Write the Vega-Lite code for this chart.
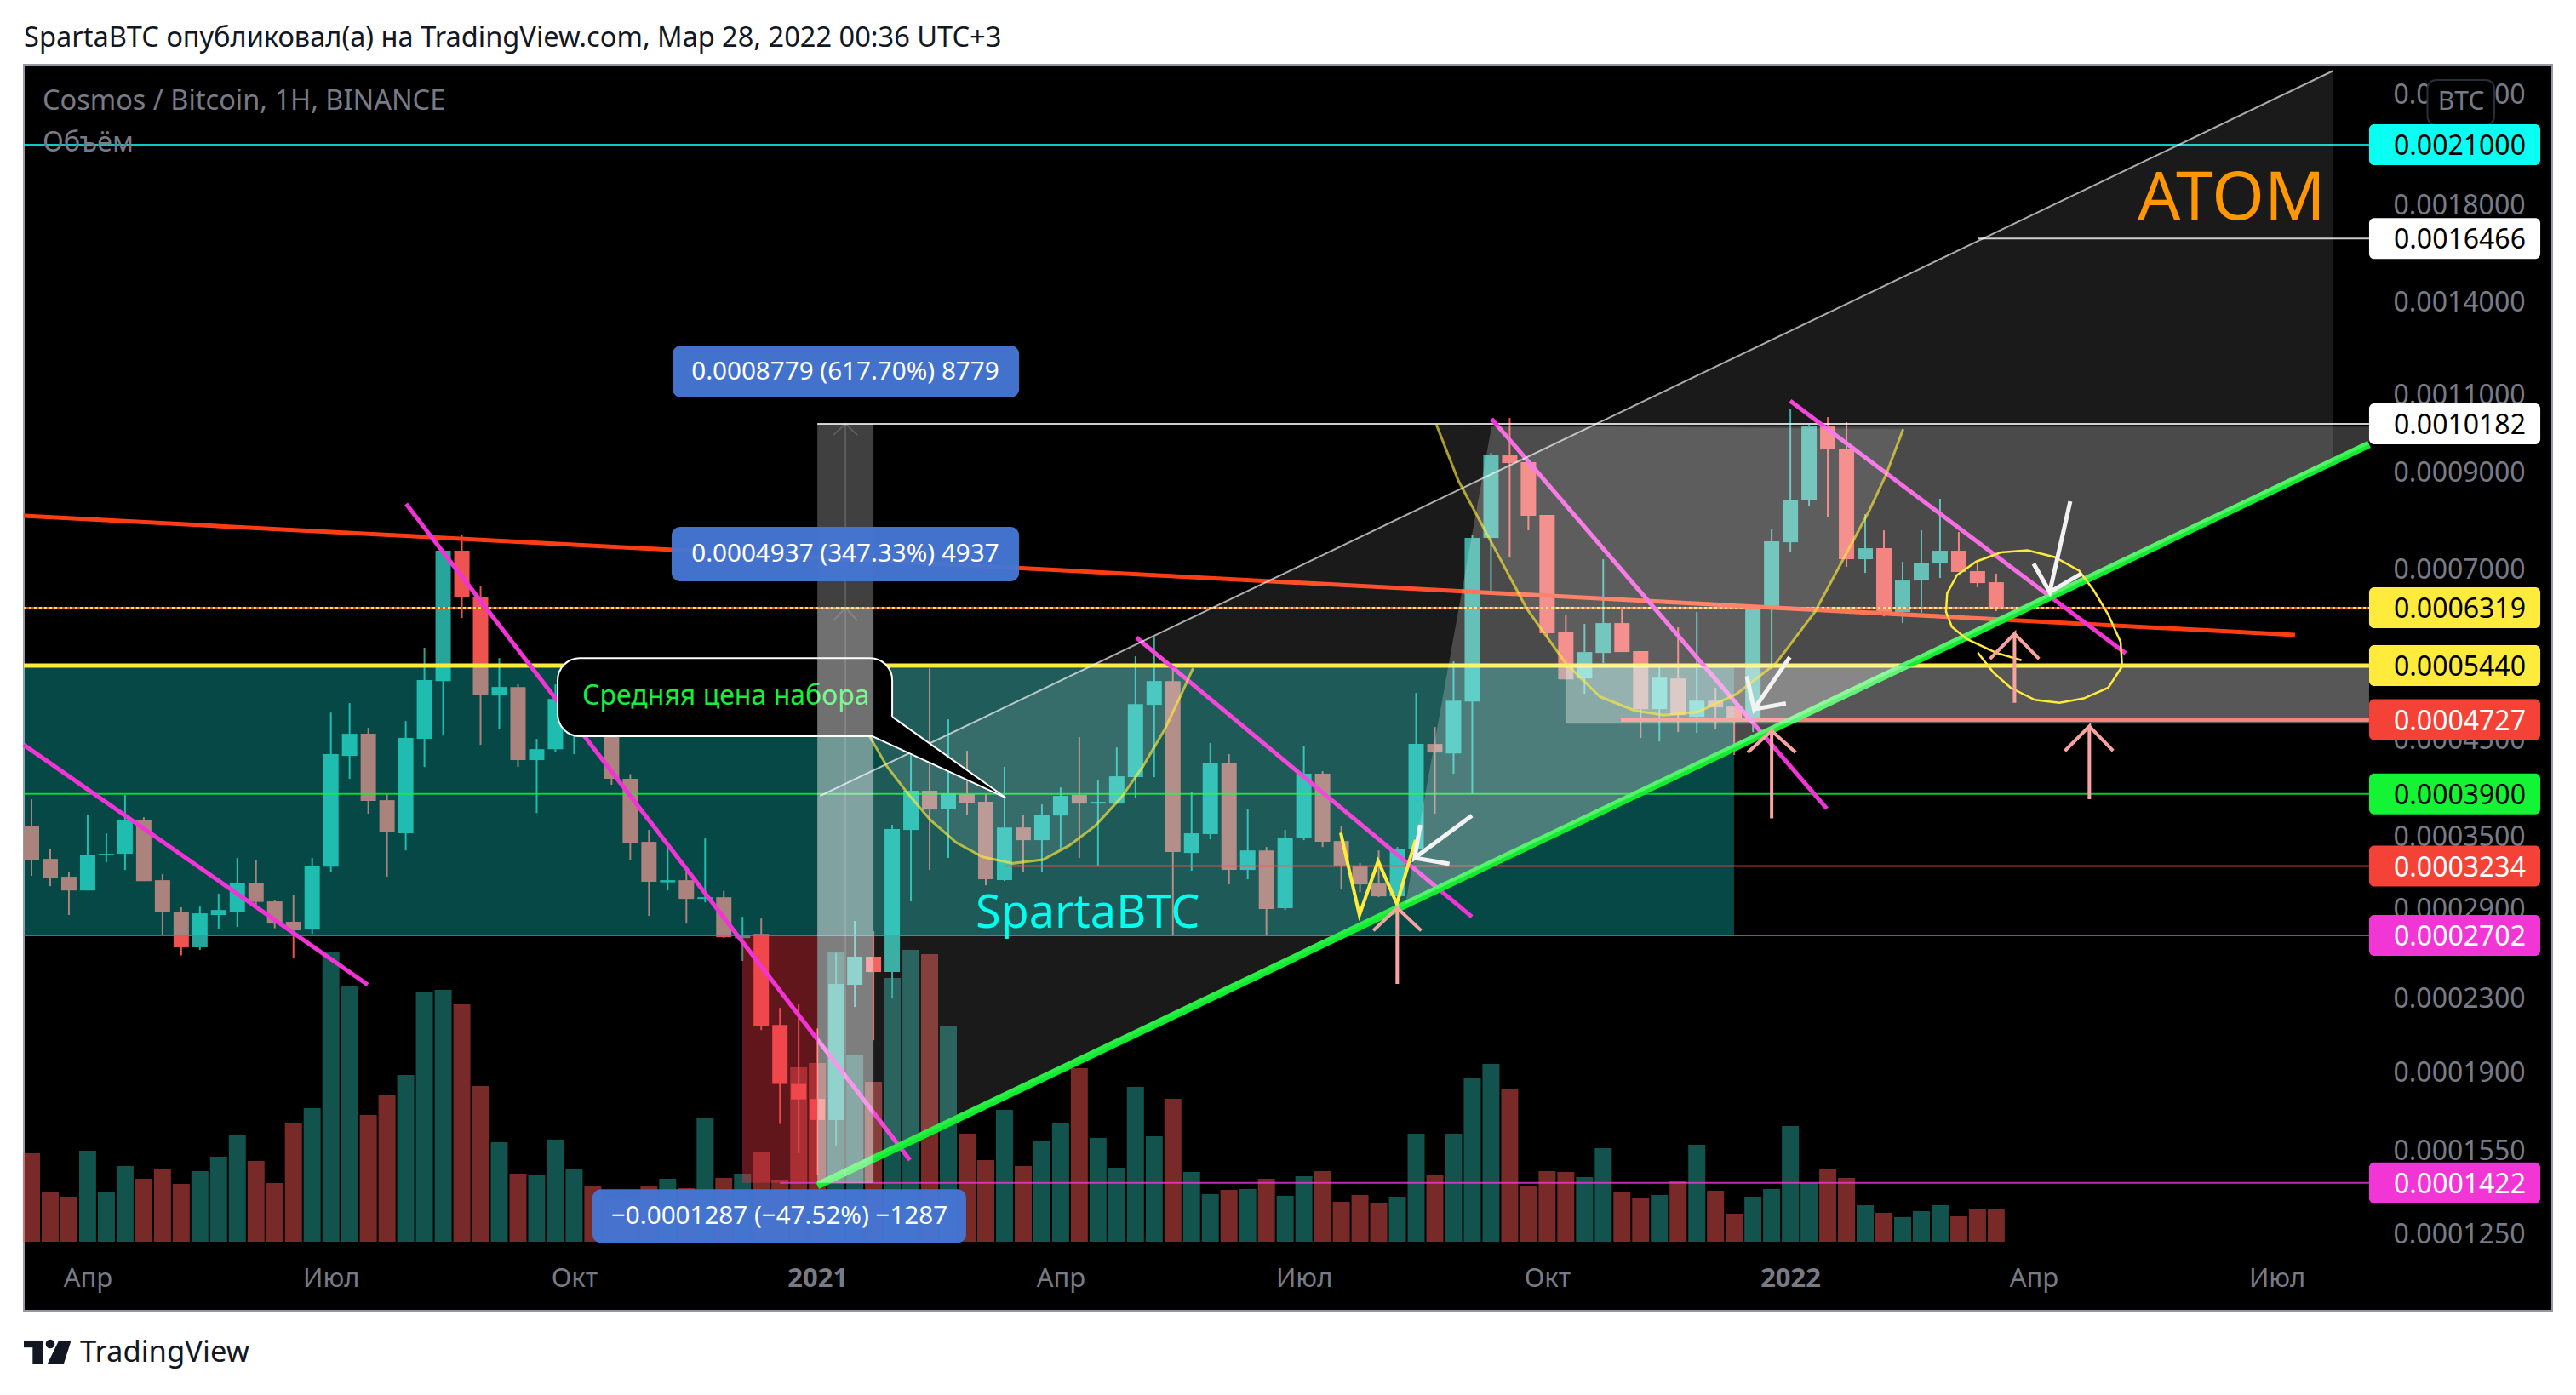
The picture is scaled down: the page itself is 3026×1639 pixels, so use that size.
{
"$schema":"https://vega.github.io/schema/vega-lite/v6.json",
"width":2970,"height":1464,
"autosize":{"type":"none"},
"padding":{"left":28,"top":76,"right":28,"bottom":99},
"background":"#ffffff",
"view":{"fill":"#000000","stroke":"#9598A1","strokeWidth":2},
"config":{"font":"Noto Sans","title":{"font":"Noto Sans"}},
"title":{"text":"SpartaBTC опубликовал(а) на TradingView.com, Мар 28, 2022 00:36 UTC+3","anchor":"start","frame":"group","offset":14,"fontSize":32.6,"fontWeight":"normal","color":"#131722"},
"datasets":{
"candles":[
{"bar":0,"open":0.0003591,"high":0.0003845,"low":0.0003153,"close":0.0003288,"volume":104},
{"bar":1,"open":0.0003295,"high":0.000338,"low":0.000307,"close":0.0003139,"volume":58},
{"bar":2,"open":0.0003146,"high":0.0003188,"low":0.0002849,"close":0.0003036,"volume":53},
{"bar":3,"open":0.0003036,"high":0.0003695,"low":0.0003036,"close":0.0003332,"volume":107},
{"bar":4,"open":0.0003325,"high":0.0003521,"low":0.0003266,"close":0.0003339,"volume":58},
{"bar":5,"open":0.0003339,"high":0.0003889,"low":0.0003202,"close":0.0003647,"volume":89},
{"bar":6,"open":0.0003647,"high":0.0003671,"low":0.0003111,"close":0.0003111,"volume":74},
{"bar":7,"open":0.0003118,"high":0.0003167,"low":0.0002707,"close":0.0002868,"volume":85},
{"bar":8,"open":0.0002868,"high":0.0002906,"low":0.0002565,"close":0.000262,"volume":68},
{"bar":9,"open":0.000262,"high":0.0002912,"low":0.0002602,"close":0.0002861,"volume":83},
{"bar":10,"open":0.0002849,"high":0.000301,"low":0.000275,"close":0.0002886,"volume":100},
{"bar":11,"open":0.0002874,"high":0.0003303,"low":0.0002762,"close":0.0003098,"volume":125},
{"bar":12,"open":0.0003098,"high":0.0003281,"low":0.0002925,"close":0.0002947,"volume":95},
{"bar":13,"open":0.0002951,"high":0.0002964,"low":0.0002753,"close":0.0002786,"volume":69},
{"bar":14,"open":0.0002799,"high":0.0002997,"low":0.0002551,"close":0.0002738,"volume":139},
{"bar":15,"open":0.0002744,"high":0.0003303,"low":0.0002713,"close":0.0003237,"volume":157},
{"bar":16,"open":0.000323,"high":0.0004816,"low":0.0003181,"close":0.0004323,"volume":341},
{"bar":17,"open":0.0004304,"high":0.0004935,"low":0.0004055,"close":0.0004558,"volume":300},
{"bar":18,"open":0.0004558,"high":0.0004629,"low":0.0003704,"close":0.0003829,"volume":149},
{"bar":19,"open":0.0003837,"high":0.0003897,"low":0.0003146,"close":0.0003529,"volume":172},
{"bar":20,"open":0.0003521,"high":0.0004711,"low":0.0003368,"close":0.0004508,"volume":196},
{"bar":21,"open":0.0004498,"high":0.0005697,"low":0.0004182,"close":0.0005238,"volume":294},
{"bar":22,"open":0.0005226,"high":0.0007327,"low":0.0004538,"close":0.0007327,"volume":296},
{"bar":23,"open":0.0007327,"high":0.000764,"low":0.0006154,"close":0.0006489,"volume":279},
{"bar":24,"open":0.0006504,"high":0.0006678,"low":0.0004429,"close":0.0005034,"volume":183},
{"bar":25,"open":0.0005034,"high":0.0005547,"low":0.0004619,"close":0.0005146,"volume":117},
{"bar":26,"open":0.0005146,"high":0.000518,"low":0.0004182,"close":0.0004257,"volume":80},
{"bar":27,"open":0.0004257,"high":0.0004498,"low":0.0003712,"close":0.000438,"volume":78},
{"bar":28,"open":0.000438,"high":0.000518,"low":0.0004352,"close":0.0004989,"volume":120},
{"bar":29,"open":0.0004578,"high":0.0005226,"low":0.0004323,"close":0.0004891,"volume":86},
{"bar":30,"open":0.0005056,"high":0.0005226,"low":0.0004558,"close":0.0004578,"volume":66},
{"bar":31,"open":0.0004578,"high":0.0004629,"low":0.0003993,"close":0.0004055,"volume":50},
{"bar":32,"open":0.0004055,"high":0.0004105,"low":0.0003281,"close":0.0003436,"volume":50},
{"bar":33,"open":0.0003444,"high":0.0003552,"low":0.0002842,"close":0.0003105,"volume":65},
{"bar":34,"open":0.0003101,"high":0.0003406,"low":0.0003036,"close":0.0003118,"volume":74},
{"bar":35,"open":0.0003118,"high":0.0003188,"low":0.0002786,"close":0.000297,"volume":63},
{"bar":36,"open":0.000297,"high":0.0003474,"low":0.0002944,"close":0.0002983,"volume":146},
{"bar":37,"open":0.0002983,"high":0.0003033,"low":0.0002683,"close":0.0002689,"volume":75},
{"bar":38,"open":0.0002683,"high":0.0002836,"low":0.0002529,"close":0.0002701,"volume":80},
{"bar":39,"open":0.0002713,"high":0.0002823,"low":0.0002114,"close":0.0002137,"volume":105},
{"bar":40,"open":0.0002142,"high":0.0002239,"low":0.0001657,"close":0.0001838,"volume":73},
{"bar":41,"open":0.0001838,"high":0.0002259,"low":0.0001536,"close":0.0001766,"volume":205},
{"bar":42,"open":0.0001768,"high":0.0002123,"low":0.0001453,"close":0.0001674,"volume":210},
{"bar":43,"open":0.0001674,"high":0.0002582,"low":0.0001567,"close":0.0002382,"volume":340},
{"bar":44,"open":0.0002377,"high":0.0002805,"low":0.0002244,"close":0.0002557,"volume":219},
{"bar":45,"open":0.0002557,"high":0.0002732,"low":0.0002059,"close":0.0002457,"volume":188},
{"bar":46,"open":0.0002457,"high":0.0003599,"low":0.0002294,"close":0.000356,"volume":310},
{"bar":47,"open":0.0003552,"high":0.0004313,"low":0.0002951,"close":0.0003932,"volume":343},
{"bar":48,"open":0.0003932,"high":0.0005402,"low":0.0003202,"close":0.0003745,"volume":338},
{"bar":49,"open":0.0003753,"high":0.0004732,"low":0.0003303,"close":0.0003906,"volume":254},
{"bar":50,"open":0.0003897,"high":0.0004361,"low":0.0003695,"close":0.0003812,"volume":127},
{"bar":51,"open":0.000382,"high":0.0003897,"low":0.0003077,"close":0.0003125,"volume":96},
{"bar":52,"open":0.0003118,"high":0.0004182,"low":0.0003111,"close":0.0003575,"volume":155},
{"bar":53,"open":0.0003575,"high":0.0003695,"low":0.0003181,"close":0.0003459,"volume":89},
{"bar":54,"open":0.0003459,"high":0.0003795,"low":0.0003181,"close":0.0003695,"volume":119},
{"bar":55,"open":0.0003687,"high":0.0003966,"low":0.0003376,"close":0.000388,"volume":139},
{"bar":56,"open":0.0003889,"high":0.0004518,"low":0.0003303,"close":0.0003803,"volume":204},
{"bar":57,"open":0.0003803,"high":0.0004046,"low":0.0003237,"close":0.000382,"volume":122},
{"bar":58,"open":0.0003803,"high":0.00044,"low":0.0003803,"close":0.0004082,"volume":87},
{"bar":59,"open":0.0004073,"high":0.0005572,"low":0.0003854,"close":0.0004923,"volume":182},
{"bar":60,"open":0.0004913,"high":0.000585,"low":0.0004073,"close":0.0005226,"volume":124},
{"bar":61,"open":0.0005226,"high":0.0005402,"low":0.0002707,"close":0.0003354,"volume":168},
{"bar":62,"open":0.0003346,"high":0.0003923,"low":0.0003195,"close":0.0003521,"volume":82},
{"bar":63,"open":0.0003513,"high":0.0004449,"low":0.0003467,"close":0.0004219,"volume":56},
{"bar":64,"open":0.0004219,"high":0.0004323,"low":0.0003084,"close":0.0003202,"volume":61},
{"bar":65,"open":0.0003202,"high":0.0003753,"low":0.0003125,"close":0.0003368,"volume":62},
{"bar":66,"open":0.0003368,"high":0.0003398,"low":0.0002707,"close":0.0002893,"volume":74},
{"bar":67,"open":0.0002899,"high":0.0003552,"low":0.0002886,"close":0.0003482,"volume":54},
{"bar":68,"open":0.0003482,"high":0.0004419,"low":0.0003459,"close":0.0004109,"volume":77},
{"bar":69,"open":0.0004109,"high":0.0004136,"low":0.0003398,"close":0.0003444,"volume":83},
{"bar":70,"open":0.0003451,"high":0.0003591,"low":0.0003043,"close":0.0003237,"volume":47},
{"bar":71,"open":0.0003237,"high":0.0003259,"low":0.0003023,"close":0.0003084,"volume":55},
{"bar":72,"open":0.0003091,"high":0.0003368,"low":0.0002983,"close":0.000299,"volume":46},
{"bar":73,"open":0.000299,"high":0.0003398,"low":0.000299,"close":0.0003383,"volume":53},
{"bar":74,"open":0.0003383,"high":0.0005067,"low":0.0003383,"close":0.0004439,"volume":127},
{"bar":75,"open":0.0004439,"high":0.0004639,"low":0.0003704,"close":0.0004342,"volume":78},
{"bar":76,"open":0.0004332,"high":0.0005499,"low":0.0004109,"close":0.0004967,"volume":127},
{"bar":77,"open":0.0004956,"high":0.000764,"low":0.0003897,"close":0.0007573,"volume":192},
{"bar":78,"open":0.0007573,"high":0.0009444,"low":0.0006605,"close":0.0009382,"volume":209},
{"bar":79,"open":0.0009382,"high":0.0010338,"low":0.0007198,"close":0.0009197,"volume":179},
{"bar":80,"open":0.0009218,"high":0.0009218,"low":0.0007725,"close":0.0008021,"volume":66},
{"bar":81,"open":0.0008039,"high":0.0008039,"low":0.0005863,"close":0.0005915,"volume":83},
{"bar":82,"open":0.0005928,"high":0.0006195,"low":0.0005249,"close":0.0005249,"volume":82},
{"bar":83,"open":0.0005261,"high":0.000606,"low":0.0005056,"close":0.0005634,"volume":76},
{"bar":84,"open":0.0005621,"high":0.0007167,"low":0.0005474,"close":0.0006073,"volume":110},
{"bar":85,"open":0.0006073,"high":0.0006291,"low":0.0005634,"close":0.0005634,"volume":59},
{"bar":86,"open":0.0005646,"high":0.0005646,"low":0.0004508,"close":0.0004859,"volume":51},
{"bar":87,"open":0.0004859,"high":0.0005426,"low":0.0004468,"close":0.0005272,"volume":55},
{"bar":88,"open":0.0005261,"high":0.0006007,"low":0.0004578,"close":0.0004784,"volume":72},
{"bar":89,"open":0.0004763,"high":0.000625,"low":0.0004568,"close":0.0004967,"volume":114},
{"bar":90,"open":0.0004967,"high":0.0005135,"low":0.0004609,"close":0.000488,"volume":60},
{"bar":91,"open":0.0004891,"high":0.0004891,"low":0.0004313,"close":0.0004732,"volume":33},
{"bar":92,"open":0.0004742,"high":0.0006305,"low":0.0004578,"close":0.0006305,"volume":53},
{"bar":93,"open":0.0006305,"high":0.0007759,"low":0.000539,"close":0.0007506,"volume":62},
{"bar":94,"open":0.000749,"high":0.0010593,"low":0.000731,"close":0.0008364,"volume":136},
{"bar":95,"open":0.0008346,"high":0.0010157,"low":0.0008236,"close":0.0010135,"volume":69},
{"bar":96,"open":0.0010135,"high":0.0010361,"low":0.0008003,"close":0.0009528,"volume":86},
{"bar":97,"open":0.0009549,"high":0.0010225,"low":0.0007026,"close":0.0007167,"volume":75},
{"bar":98,"open":0.0007167,"high":0.0008056,"low":0.0006918,"close":0.0007375,"volume":43},
{"bar":99,"open":0.0007375,"high":0.0007725,"low":0.0006181,"close":0.000625,"volume":34},
{"bar":100,"open":0.000625,"high":0.0007119,"low":0.0006073,"close":0.0006782,"volume":29},
{"bar":101,"open":0.0006782,"high":0.0007725,"low":0.0006236,"close":0.0007103,"volume":36},
{"bar":102,"open":0.0007088,"high":0.0008383,"low":0.0006827,"close":0.0007327,"volume":43},
{"bar":103,"open":0.0007327,"high":0.0007691,"low":0.0006934,"close":0.0006934,"volume":30},
{"bar":104,"open":0.0006949,"high":0.0007103,"low":0.0006663,"close":0.0006737,"volume":39},
{"bar":105,"open":0.0006752,"high":0.0006903,"low":0.0006264,"close":0.0006319,"volume":38}
],
"thin_levels":[
{"label":"0.0021000","price":0.0021,"bar":-0.41,"bar2":124.93},
{"label":"0.0016466","price":0.0016466,"bar":104.05,"bar2":124.93},
{"label":"0.0010182","price":0.0010182,"bar":42,"bar2":124.93},
{"label":"0.0003900","price":0.00039,"bar":-0.41,"bar2":124.93},
{"label":"0.0003234","price":0.0003234,"bar":52,"bar2":124.93},
{"label":"0.0002702","price":0.0002702,"bar":-0.41,"bar2":124.93},
{"label":"0.0001422","price":0.0001422,"bar":40,"bar2":124.93}
],
"tags":[
{"label":"0.0021000","price":0.0021,"bar":124.93,"bar2":134.08},
{"label":"0.0016466","price":0.0016466,"bar":124.93,"bar2":134.08},
{"label":"0.0010182","price":0.0010182,"bar":124.93,"bar2":134.08},
{"label":"0.0006319","price":0.0006319,"bar":124.93,"bar2":134.08},
{"label":"0.0005440","price":0.000544,"bar":124.93,"bar2":134.08},
{"label":"0.0004727","price":0.0004727,"bar":124.93,"bar2":134.08},
{"label":"0.0003900","price":0.00039,"bar":124.93,"bar2":134.08},
{"label":"0.0003234","price":0.0003234,"bar":124.93,"bar2":134.08},
{"label":"0.0002702","price":0.0002702,"bar":124.93,"bar2":134.08},
{"label":"0.0001422","price":0.0001422,"bar":124.93,"bar2":134.08}
],
"trends":[
{"line":"a","n":1,"bar":-0.41,"price":0.0004429},{"line":"a","n":2,"bar":17.97,"price":0.0002377},
{"line":"b","n":1,"bar":20.02,"price":0.0008272},{"line":"b","n":2,"bar":46.95,"price":0.0001509},
{"line":"c","n":1,"bar":59.05,"price":0.000585},{"line":"c","n":2,"bar":76.98,"price":0.0002836},
{"line":"d","n":1,"bar":78.03,"price":0.0010316},{"line":"d","n":2,"bar":95.95,"price":0.0003753},
{"line":"e","n":1,"bar":93.99,"price":0.0010805},{"line":"e","n":2,"bar":111.92,"price":0.0005615}
],
"white_arrows":[
{"arrow":"w1","n":1,"bar":76.98,"price":0.0003687},{"arrow":"w1","n":2,"bar":73.92,"price":0.0003303},{"arrow":"w1","n":3,"bar":74.22,"price":0.0003599},{"arrow":"w1","n":4,"bar":73.92,"price":0.0003303},{"arrow":"w1","n":5,"bar":75.78,"price":0.0003252},
{"arrow":"w2","n":1,"bar":93.97,"price":0.000556},{"arrow":"w2","n":2,"bar":92.06,"price":0.0004859},{"arrow":"w2","n":3,"bar":91.67,"price":0.0005292},{"arrow":"w2","n":4,"bar":92.06,"price":0.0004859},{"arrow":"w2","n":5,"bar":93.76,"price":0.000493},
{"arrow":"w3","n":1,"bar":108.96,"price":0.0008328},{"arrow":"w3","n":2,"bar":107.86,"price":0.0006583},{"arrow":"w3","n":3,"bar":107,"price":0.0007086},{"arrow":"w3","n":4,"bar":107.86,"price":0.0006583},{"arrow":"w3","n":5,"bar":109.56,"price":0.0006905}
],
"pink_arrows":[
{"arrow":"p1","n":1,"bar":72.99,"price":0.0002382},{"arrow":"p1","n":2,"bar":72.99,"price":0.0002901},{"arrow":"p1","n":3,"bar":71.71,"price":0.0002736},{"arrow":"p1","n":4,"bar":72.99,"price":0.0002901},{"arrow":"p1","n":5,"bar":74.27,"price":0.0002736},
{"arrow":"p2","n":1,"bar":93,"price":0.000366},{"arrow":"p2","n":2,"bar":93,"price":0.0004592},{"arrow":"p2","n":3,"bar":91.72,"price":0.0004343},{"arrow":"p2","n":4,"bar":93,"price":0.0004592},{"arrow":"p2","n":5,"bar":94.28,"price":0.0004343},
{"arrow":"p3","n":1,"bar":105.98,"price":0.0004938},{"arrow":"p3","n":2,"bar":105.98,"price":0.0005907},{"arrow":"p3","n":3,"bar":104.67,"price":0.0005536},{"arrow":"p3","n":4,"bar":105.98,"price":0.0005907},{"arrow":"p3","n":5,"bar":107.29,"price":0.0005536},
{"arrow":"p4","n":1,"bar":109.98,"price":0.0003846},{"arrow":"p4","n":2,"bar":109.98,"price":0.0004647},{"arrow":"p4","n":3,"bar":108.67,"price":0.000436},{"arrow":"p4","n":4,"bar":109.98,"price":0.0004647},{"arrow":"p4","n":5,"bar":111.25,"price":0.000436}
],
"cups":[
{"cup":1,"bar":42.86,"price":0.0005402,"price2":0.0005402},{"cup":1,"bar":43.81,"price":0.0004913,"price2":0.0005402},{"cup":1,"bar":44.79,"price":0.0004528,"price2":0.0005402},{"cup":1,"bar":45.71,"price":0.0004191,"price2":0.0005402},{"cup":1,"bar":46.87,"price":0.0003895,"price2":0.0005402},{"cup":1,"bar":48.04,"price":0.0003645,"price2":0.0005402},{"cup":1,"bar":49.43,"price":0.0003436,"price2":0.0005402},{"cup":1,"bar":50.82,"price":0.0003312,"price2":0.0005402},{"cup":1,"bar":52.45,"price":0.0003257,"price2":0.0005402},{"cup":1,"bar":54.07,"price":0.0003288,"price2":0.0005402},{"cup":1,"bar":55.46,"price":0.0003411,"price2":0.0005402},{"cup":1,"bar":56.86,"price":0.0003591,"price2":0.0005402},{"cup":1,"bar":58.25,"price":0.0003865,"price2":0.0005402},{"cup":1,"bar":59.41,"price":0.0004191,"price2":0.0005402},{"cup":1,"bar":60.57,"price":0.0004612,"price2":0.0005402},{"cup":1,"bar":61.5,"price":0.0005075,"price2":0.0005402},{"cup":1,"bar":62.08,"price":0.0005402,"price2":0.0005402},
{"cup":2,"bar":75.08,"price":0.001016,"price2":0.001016},{"cup":2,"bar":76.26,"price":0.000878,"price2":0.001015},{"cup":2,"bar":78.09,"price":0.000744,"price2":0.001014},{"cup":2,"bar":79.91,"price":0.0006305,"price2":0.0010135},{"cup":2,"bar":82,"price":0.000547,"price2":0.001013},{"cup":2,"bar":83.83,"price":0.0005016,"price2":0.001012},{"cup":2,"bar":85.66,"price":0.0004842,"price2":0.001011},{"cup":2,"bar":87.22,"price":0.0004784,"price2":0.00101},{"cup":2,"bar":89.05,"price":0.0004822,"price2":0.001009},{"cup":2,"bar":91.14,"price":0.0005056,"price2":0.001008},{"cup":2,"bar":93.23,"price":0.000547,"price2":0.001007},{"cup":2,"bar":95.32,"price":0.0006255,"price2":0.001006},{"cup":2,"bar":96.89,"price":0.0007208,"price2":0.0010055},{"cup":2,"bar":98.2,"price":0.0008114,"price2":0.001005},{"cup":2,"bar":99.11,"price":0.0008918,"price2":0.0010045},{"cup":2,"bar":100.03,"price":0.001004,"price2":0.001004}
],
"ellipse":[
{"n":1,"bar":106.35,"price":0.0005515},{"n":2,"bar":104.99,"price":0.0005624},{"n":3,"bar":103.42,"price":0.0005828},{"n":4,"bar":102.63,"price":0.0006014},{"n":5,"bar":102.32,"price":0.0006255},{"n":6,"bar":102.38,"price":0.000656},{"n":7,"bar":102.9,"price":0.0006877},{"n":8,"bar":103.94,"price":0.0007125},{"n":9,"bar":105.25,"price":0.0007296},{"n":10,"bar":106.68,"price":0.0007336},{"n":11,"bar":108.12,"price":0.0007208},{"n":12,"bar":109.43,"price":0.0006958},{"n":13,"bar":110.21,"price":0.0006612},{"n":14,"bar":110.99,"price":0.0006207},{"n":15,"bar":111.65,"price":0.0005783},{"n":16,"bar":111.73,"price":0.0005427},{"n":17,"bar":110.99,"price":0.0005136},{"n":18,"bar":109.68,"price":0.0004996},{"n":19,"bar":108.38,"price":0.0004938},{"n":20,"bar":107.07,"price":0.0004977},{"n":21,"bar":105.77,"price":0.0005136},{"n":22,"bar":104.85,"price":0.0005343},{"n":23,"bar":104.02,"price":0.0005624}
]
},
"encoding":{
"x":{"field":"bar","type":"quantitative","title":null,
"scale":{"domain":[-0.4095,134.714],"nice":false,"zero":false,"padding":0},
"axis":{"values":[3,16,29,42,55,68,81,94,107,120],"labelExpr":"['Апр','Июл','Окт','2021','Апр','Июл','Окт','2022','Апр','Июл'][(datum.value-3)/13]","offset":-38,"grid":false,"domain":false,"ticks":false,"labelPadding":0,"labelBaseline":"middle","labelFontSize":31,"labelColor":"#787B86","labelFontWeight":{"condition":{"test":"datum.value==42||datum.value==94","value":"bold"},"value":"normal"},"labelOverlap":false,"labelFlush":false}}
},
"resolve":{"scale":{"y":"independent"}},
"layer":[
{"data":{"name":"candles"},
 "mark":{"type":"bar","size":20,"opacity":0.5,"orient":"vertical"},
 "encoding":{
  "y":{"field":"volume","type":"quantitative","title":null,"stack":null,"scale":{"domain":[-81,1383],"nice":false,"zero":false,"padding":0},"axis":null},
  "color":{"condition":{"test":"datum.close>=datum.open","value":"#26A69A"},"value":"#EF5350"}}},
{"encoding":{
  "y":{"field":"price","type":"quantitative","title":null,
   "scale":{"type":"log","domain":[0.00010208,0.0025842],"nice":false,"padding":0},
   "axis":{"orient":"right","offset":-32,"values":[0.0024,0.0018,0.0014,0.0011,0.0009,0.0007,0.00045,0.00035,0.00029,0.00023,0.00019,0.000155,0.000125],"format":".7f","grid":false,"domain":false,"ticks":false,"labelPadding":0,"labelOffset":2,"labelAlign":"right","labelFontSize":32,"labelColor":"#787B86","labelOverlap":false,"labelFlush":false}}},
 "layer":[
 {"data":{"name":"candles"},
  "mark":{"type":"rule","strokeWidth":2},
  "encoding":{
   "y":{"field":"low","type":"quantitative","title":null,"scale":{"type":"log","domain":[0.00010208,0.0025842],"nice":false,"padding":0},
    "axis":{"orient":"right","offset":-32,"values":[0.0024,0.0018,0.0014,0.0011,0.0009,0.0007,0.00045,0.00035,0.00029,0.00023,0.00019,0.000155,0.000125],"format":".7f","grid":false,"domain":false,"ticks":false,"labelPadding":0,"labelOffset":2,"labelAlign":"right","labelFontSize":32,"labelColor":"#787B86","labelOverlap":false,"labelFlush":false}},
   "y2":{"field":"high"},
   "color":{"condition":{"test":"datum.close>=datum.open","value":"#26A69A"},"value":"#EF5350"}}},
 {"data":{"name":"candles"},
  "mark":{"type":"bar","size":18,"orient":"vertical"},
  "encoding":{
   "y":{"field":"open","type":"quantitative","title":null,"scale":{"type":"log","domain":[0.00010208,0.0025842],"nice":false,"padding":0},
    "axis":{"orient":"right","offset":-32,"values":[0.0024,0.0018,0.0014,0.0011,0.0009,0.0007,0.00045,0.00035,0.00029,0.00023,0.00019,0.000155,0.000125],"format":".7f","grid":false,"domain":false,"ticks":false,"labelPadding":0,"labelOffset":2,"labelAlign":"right","labelFontSize":32,"labelColor":"#787B86","labelOverlap":false,"labelFlush":false}},
   "y2":{"field":"close"},
   "color":{"condition":{"test":"datum.close>=datum.open","value":"#26A69A"},"value":"#EF5350"}}},
 {"data":{"values":[{"bar":-0.41,"bar2":90.99,"price":0.000544,"price2":0.0002702}]},
  "mark":{"type":"rect","fill":"#12F0E6","opacity":0.3},
  "encoding":{"x2":{"field":"bar2"},"y2":{"field":"price2"}}},
 {"data":{"values":[{"bar":37.99,"bar2":42,"price":0.0002702,"price2":0.0001422}]},
  "mark":{"type":"rect","fill":"#F23645","opacity":0.4},
  "encoding":{"x2":{"field":"bar2"},"y2":{"field":"price2"}}},
 {"data":{"name":"thin_levels"},
  "mark":{"type":"rule","strokeWidth":2,"opacity":0.8},
  "encoding":{"x2":{"field":"bar2"},
   "color":{"field":"label","type":"nominal","legend":null,"scale":{"domain":["0.0021000","0.0016466","0.0010182","0.0006319","0.0005440","0.0004727","0.0003900","0.0003234","0.0002702","0.0001422"],"range":["#0AFFF3","#FFFFFF","#FFFFFF","#FFEB3B","#FFEB3B","#F44336","#13F435","#F44336","#F236D6","#F236D6"]}}}},
 {"data":{"values":[{"bar":-0.41,"bar2":124.93,"price":0.0006319}]},
  "mark":{"type":"rule","strokeWidth":2,"color":"#F44336"},
  "encoding":{"x2":{"field":"bar2"}}},
 {"data":{"values":[{"bar":-0.41,"bar2":124.93,"price":0.0006319}]},
  "mark":{"type":"rule","strokeWidth":2,"color":"#FFEB3B","strokeDash":[3,3]},
  "encoding":{"x2":{"field":"bar2"}}},
 {"data":{"values":[{"bar":-0.41,"bar2":124.93,"price":0.000544}]},
  "mark":{"type":"rule","strokeWidth":5,"color":"#FFEB3B"},
  "encoding":{"x2":{"field":"bar2"}}},
 {"data":{"values":[{"bar":84.94,"bar2":124.93,"price":0.0004727}]},
  "mark":{"type":"rule","strokeWidth":5,"color":"#F44336"},
  "encoding":{"x2":{"field":"bar2"}}},
 {"data":{"values":[{"n":1,"bar":-0.41,"price":0.0008021},{"n":2,"bar":120.97,"price":0.0005889}]},
  "mark":{"type":"line","strokeWidth":5,"color":"#FF3D14"},
  "encoding":{"order":{"field":"n"}}},
 {"data":{"name":"trends"},
  "mark":{"type":"line","strokeWidth":5,"color":"#F233D6"},
  "encoding":{"detail":{"field":"line"},"order":{"field":"n"}}},
 {"data":{"values":[{"n":1,"bar":42,"price":0.0001412},{"n":2,"bar":124.93,"price":0.0009655}]},
  "mark":{"type":"line","strokeWidth":9,"color":"#12EC30"},
  "encoding":{"order":{"field":"n"}}},
 {"data":{"values":[{"bar":42,"price":0.0003871,"price2":0.0001412},{"bar":123.02,"price":0.0025446,"price2":0.0009238}]},
  "mark":{"type":"area","fill":"#FFFFFF","opacity":0.1,"orient":"vertical"},
  "encoding":{"y2":{"field":"price2"}}},
 {"data":{"values":[{"n":1,"bar":42.14,"price":0.000388},{"n":2,"bar":123.02,"price":0.0025446}]},
  "mark":{"type":"line","strokeWidth":2,"color":"#FFFFFF","opacity":0.65},
  "encoding":{"order":{"field":"n"}}},
 {"data":{"values":[{"bar":73.43,"price":0.0002931,"price2":0.0002931},{"bar":78.03,"price":0.001011,"price2":0.0003256},{"bar":124.93,"price":0.001011,"price2":0.0009655}]},
  "mark":{"type":"area","fill":"#FFFFFF","opacity":0.21,"orient":"vertical"},
  "encoding":{"y2":{"field":"price2"}}},
 {"data":{"values":[{"bar":81.98,"bar2":124.93,"price":0.000544,"price2":0.000468}]},
  "mark":{"type":"rect","fill":"#FFFFFF","opacity":0.34},
  "encoding":{"x2":{"field":"bar2"},"y2":{"field":"price2"}}},
 {"data":{"name":"cups"},
  "mark":{"type":"area","fill":"#FFFFFF","opacity":0.11,"orient":"vertical"},
  "encoding":{"detail":{"field":"cup"},"y2":{"field":"price2"}}},
 {"data":{"name":"cups"},
  "mark":{"type":"line","strokeWidth":3,"color":"#FFEB3B","opacity":0.65},
  "encoding":{"detail":{"field":"cup"}}},
 {"data":{"values":[{"bar":28.12,"bar2":46,"price":0.0005547,"price2":0.0004528}]},
  "mark":{"type":"rect","fill":"#000000","stroke":"#FFFFFF","strokeWidth":2,"cornerRadius":26},
  "encoding":{"x2":{"field":"bar2"},"y2":{"field":"price2"}}},
 {"data":{"values":[{"bar":44.95,"price":0.0004934,"price2":0.0004528},{"bar":46,"price":0.0004763,"price2":0.0004423},{"bar":52.05,"price":0.0003863,"price2":0.0003863}]},
  "mark":{"type":"area","fill":"#000000","orient":"vertical"},
  "encoding":{"y2":{"field":"price2"}}},
 {"data":{"values":[{"s":"low","n":1,"bar":44.95,"price":0.0004528},{"s":"low","n":2,"bar":52.05,"price":0.0003863},{"s":"up","n":1,"bar":46,"price":0.0004763},{"s":"up","n":2,"bar":52.05,"price":0.0003863}]},
  "mark":{"type":"line","strokeWidth":2,"color":"#FFFFFF"},
  "encoding":{"detail":{"field":"s"},"order":{"field":"n"}}},
 {"data":{"values":[{"bar":29.44,"price":0.0005022,"note":"Средняя цена набора"}]},
  "mark":{"type":"text","align":"left","baseline":"middle","fontSize":32,"color":"#14F03B"},
  "encoding":{"text":{"field":"note"}}},
 {"data":{"values":[{"bar":42,"bar2":45,"price":0.0010182,"price2":0.0001422},{"bar":42,"bar2":45,"price":0.0006319,"price2":0.0001422}]},
  "mark":{"type":"rect","fill":"#FFFFFF","opacity":0.25},
  "encoding":{"x2":{"field":"bar2"},"y2":{"field":"price2"}}},
 {"data":{"values":[
  {"s":"stem","n":1,"bar":43.5,"price":0.0010182},{"s":"stem","n":2,"bar":43.5,"price":0.0001422},
  {"s":"head1","n":1,"bar":42.86,"price":0.0009892},{"s":"head1","n":2,"bar":43.5,"price":0.0010182},{"s":"head1","n":3,"bar":44.14,"price":0.0009892},
  {"s":"head2","n":1,"bar":42.86,"price":0.0006113},{"s":"head2","n":2,"bar":43.5,"price":0.0006319},{"s":"head2","n":3,"bar":44.14,"price":0.0006113}]},
  "mark":{"type":"line","strokeWidth":2,"color":"#FFFFFF","opacity":0.15},
  "encoding":{"detail":{"field":"s"},"order":{"field":"n"}}},
 {"data":{"values":[{"n":1,"bar":69.97,"price":0.0003526},{"n":2,"bar":70.97,"price":0.0002849},{"n":3,"bar":71.97,"price":0.0003276},{"n":4,"bar":72.97,"price":0.0002933},{"n":5,"bar":73.97,"price":0.0003462}]},
  "mark":{"type":"line","strokeWidth":4,"color":"#FFEB3B"},
  "encoding":{"order":{"field":"n"}}},
 {"data":{"name":"ellipse"},
  "mark":{"type":"line","strokeWidth":2.5,"color":"#FFEB3B"},
  "encoding":{"order":{"field":"n"}}},
 {"data":{"name":"pink_arrows"},
  "mark":{"type":"line","strokeWidth":4,"color":"#F7A4A0"},
  "encoding":{"detail":{"field":"arrow"},"order":{"field":"n"}}},
 {"data":{"name":"white_arrows"},
  "mark":{"type":"line","strokeWidth":5,"color":"#F2F2F2"},
  "encoding":{"detail":{"field":"arrow"},"order":{"field":"n"}}},
 {"data":{"values":[{"bar":34.26,"bar2":52.78,"price":0.0012474,"price2":0.00109},{"bar":34.21,"bar2":52.78,"price":0.0007793,"price2":0.0006767},{"bar":29.98,"bar2":49.95,"price":0.0001399,"price2":0.0001217}]},
  "mark":{"type":"rect","fill":"#4576D4","cornerRadius":10,"opacity":0.97},
  "encoding":{"x2":{"field":"bar2"},"y2":{"field":"price2"}}},
 {"data":{"values":[{"bar":43.49,"price":0.001166,"note":"0.0008779 (617.70%) 8779"},{"bar":43.49,"price":0.0007262,"note":"0.0004937 (347.33%) 4937"},{"bar":39.97,"price":0.0001304,"note":"−0.0001287 (−47.52%) −1287"}]},
  "mark":{"type":"text","align":"center","baseline":"middle","fontSize":29.6,"color":"#FFFFFF"},
  "encoding":{"text":{"field":"note"}}},
 {"data":{"values":[{"bar":50.45,"price":0.0002855,"note":"SpartaBTC"}]},
  "mark":{"type":"text","align":"left","baseline":"middle","fontSize":54,"color":"#00FFEE"},
  "encoding":{"text":{"field":"note"}}},
 {"data":{"values":[{"bar":122.6,"price":0.001824,"note":"ATOM"}]},
  "mark":{"type":"text","align":"right","baseline":"middle","fontSize":79,"color":"#FF9800"},
  "encoding":{"text":{"field":"note"}}},
 {"data":{"values":[{"bar":0.59,"price":0.00235,"note":"Cosmos / Bitcoin, 1H, BINANCE"},{"bar":0.59,"price":0.002109,"note":"Объём"}]},
  "mark":{"type":"text","align":"left","baseline":"middle","fontSize":32.5,"color":"#787B86"},
  "encoding":{"text":{"field":"note"}}},
 {"data":{"values":[{"bar":128.05,"bar2":131.62,"price":0.002484,"price2":0.002209}]},
  "mark":{"type":"rect","fill":"#000000","stroke":"#2A2E39","strokeWidth":2,"cornerRadius":10},
  "encoding":{"x2":{"field":"bar2"},"y2":{"field":"price2"}}},
 {"data":{"values":[{"bar":129.85,"price":0.002343,"note":"BTC"}]},
  "mark":{"type":"text","align":"center","baseline":"middle","fontSize":30,"color":"#787B86"},
  "encoding":{"text":{"field":"note"}}},
 {"data":{"name":"tags"},
  "mark":{"type":"bar","size":48,"orient":"horizontal","cornerRadiusEnd":6},
  "encoding":{"x2":{"field":"bar2"},
   "color":{"field":"label","type":"nominal","legend":null,"scale":{"domain":["0.0021000","0.0016466","0.0010182","0.0006319","0.0005440","0.0004727","0.0003900","0.0003234","0.0002702","0.0001422"],"range":["#0AFFF3","#FFFFFF","#FFFFFF","#FFEB3B","#FFEB3B","#F44336","#13F435","#F44336","#F236D6","#F236D6"]}}}},
 {"data":{"name":"tags"},
  "mark":{"type":"text","align":"left","baseline":"middle","dx":29,"dy":2,"fontSize":32},
  "encoding":{"text":{"field":"label"},
   "color":{"condition":{"test":"indexof(['0.0004727','0.0003234','0.0002702','0.0001422'],datum.label)>=0","value":"#FFFFFF"},"value":"#000000"}}},
 {"data":{"values":[{"bar":-0.41,"bar2":0.61,"price":0.0000945,"price2":0.0000928},{"bar":0.06,"bar2":0.61,"price":0.0000945,"price2":0.000089}]},
  "mark":{"type":"rect","fill":"#131722"},
  "encoding":{"x2":{"field":"bar2"},"y2":{"field":"price2"}}},
 {"data":{"values":[{"bar":1,"price":0.00009365}]},
  "mark":{"type":"point","filled":true,"size":113,"color":"#131722","opacity":1}},
 {"data":{"values":[{"bar":1.46,"bar2":2.12,"price":0.0000945},{"bar":0.86,"bar2":1.73,"price":0.000089}]},
  "mark":{"type":"area","fill":"#131722","orient":"horizontal"},
  "encoding":{"x2":{"field":"bar2"}}},
 {"data":{"values":[{"bar":2.59,"price":0.00009137,"note":"TradingView"}]},
  "mark":{"type":"text","align":"left","baseline":"middle","fontSize":34.6,"color":"#131722"},
  "encoding":{"text":{"field":"note"}}}
 ]}
]
}
